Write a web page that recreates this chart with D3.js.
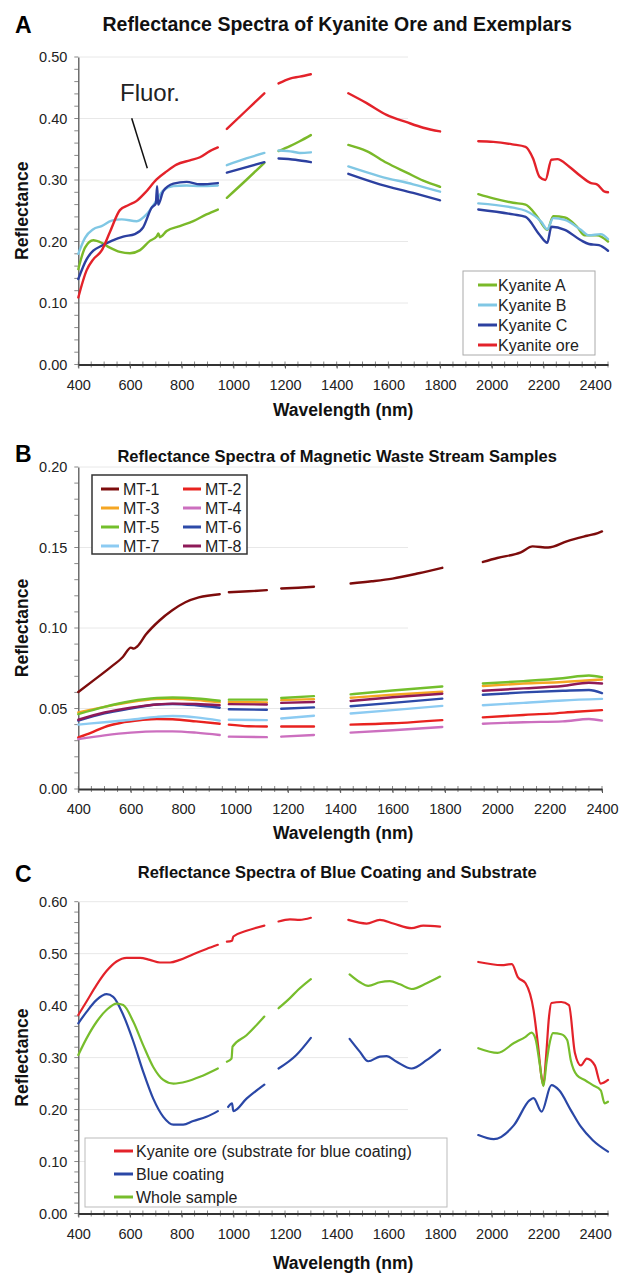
<!DOCTYPE html>
<html>
<head>
<meta charset="utf-8">
<script src="https://cdn.jsdelivr.net/npm/d3@7"></script>
<style>
  body { margin: 0; background: #fff; }
  svg { display: block; font-family: "Liberation Sans", Arial, sans-serif; }
</style>
</head>
<body>
<div id="chart"></div>
<script>
// ---- panel A: kyanite ore and exemplars (null = gap in the spectrum) ----
const kyaniteA = [[400,.155],[426,.19],[458,.202],[490,.198],[522,.19],[561,.183],[600,.181],[639,.186],[677,.201],[703,.208],[710,.213],[716,.207],[742,.217],[793,.225],[845,.233],[896,.244],[940,.252], null,
  [975,.271],[1050,.30],[1120,.328], null,
  [1175,.347],[1219,.355],[1257,.363],[1300,.373], null,
  [1445,.357],[1516,.347],[1593,.328],[1671,.312],[1735,.299],[1800,.289], null,
  [1948,.277],[2006,.270],[2083,.263],[2131,.260],[2177,.240],[2215,.219],[2238,.241],[2283,.239],[2330,.224],[2360,.210],[2407,.210],[2450,.200]];
const kyaniteB = [[400,.18],[426,.206],[458,.22],[490,.225],[529,.234],[568,.236],[626,.233],[664,.244],[697,.263],[729,.283],[768,.29],[819,.291],[871,.29],[940,.291], null,
  [975,.324],[1050,.335],[1120,.344], null,
  [1175,.348],[1231,.346],[1257,.344],[1300,.345], null,
  [1445,.322],[1567,.306],[1696,.293],[1800,.281], null,
  [1948,.262],[2083,.255],[2131,.25],[2192,.232],[2215,.22],[2238,.238],[2283,.235],[2345,.219],[2376,.21],[2422,.212],[2450,.204]];
const kyaniteC = [[400,.139],[432,.171],[458,.185],[490,.193],[529,.201],[574,.208],[619,.212],[651,.223],[684,.255],[700,.262],[705,.29],[709,.26],[729,.282],[768,.294],[819,.297],[871,.293],[940,.295], null,
  [975,.312],[1120,.329], null,
  [1175,.335],[1240,.333],[1300,.329], null,
  [1445,.31],[1567,.293],[1696,.279],[1800,.267], null,
  [1948,.252],[2083,.244],[2131,.240],[2185,.211],[2215,.198],[2231,.224],[2283,.219],[2345,.202],[2376,.196],[2415,.194],[2450,.185]];
const kyaniteOre = [[400,.109],[432,.153],[458,.171],[490,.185],[522,.215],[561,.251],[593,.259],[626,.266],[658,.279],[703,.301],[742,.314],[780,.325],[832,.332],[871,.337],[909,.347],[940,.353], null,
  [975,.383],[1050,.413],[1120,.441], null,
  [1175,.457],[1219,.465],[1257,.468],[1300,.472], null,
  [1445,.441],[1516,.425],[1593,.406],[1671,.394],[1735,.385],[1800,.379], null,
  [1948,.363],[2006,.362],[2080,.358],[2131,.354],[2160,.335],[2185,.305],[2208,.30],[2231,.333],[2254,.334],[2299,.322],[2345,.306],[2384,.295],[2407,.293],[2437,.281],[2450,.28]];

// ---- panel B: magnetic waste stream samples ----
const mt1 = [[400,.0602],[457,.0673],[519,.0751],[570,.082],[601,.0878],[612,.0872],[625,.0885],[658,.0959],[709,.1045],[759,.111],[809,.116],[860,.119],[940,.121], null,
  [975,.1222],[1050,.1228],[1120,.1235], null, [1175,.1245],[1240,.125],[1300,.1256], null,
  [1440,.1276],[1520,.129],[1600,.1307],[1700,.134],[1790,.1374], null,
  [1945,.141],[2000,.1435],[2090,.147],[2135,.1507],[2194,.150],[2268,.154],[2343,.1573],[2384,.159],[2400,.160]];
const mt2 = [[400,.032],[450,.035],[500,.0385],[560,.041],[640,.0428],[700,.0435],[760,.0433],[850,.042],[940,.0405], null,
  [975,.040],[1050,.039],[1120,.0388], null, [1175,.0388],[1300,.0388], null,
  [1440,.040],[1600,.0408],[1790,.0428], null, [1945,.0445],[2100,.046],[2200,.0468],[2300,.048],[2400,.049]];
const mt3 = [[400,.0475],[500,.051],[600,.054],[700,.0558],[760,.056],[850,.0553],[940,.0538], null,
  [975,.054],[1120,.0538], null, [1175,.0552],[1300,.0558], null,
  [1440,.0567],[1600,.0585],[1790,.0604], null, [1945,.064],[2100,.0655],[2250,.0665],[2400,.068]];
const mt4 = [[400,.031],[500,.0333],[600,.035],[700,.0358],[760,.0358],[850,.035],[940,.0335], null,
  [975,.0325],[1120,.0322], null, [1175,.0325],[1300,.0335], null,
  [1440,.035],[1600,.0365],[1790,.0385], null, [1945,.0405],[2100,.0415],[2250,.042],[2350,.0435],[2400,.0425]];
const mt5 = [[400,.0465],[500,.051],[600,.0545],[700,.0565],[760,.0568],[850,.0562],[940,.0548], null,
  [975,.0555],[1120,.0555], null, [1175,.0565],[1300,.0577], null,
  [1440,.0588],[1600,.0612],[1790,.0637], null, [1945,.0655],[2100,.067],[2250,.0688],[2350,.0705],[2400,.0695]];
const mt6 = [[400,.0425],[500,.047],[600,.050],[700,.0525],[760,.0528],[850,.052],[940,.0505], null,
  [975,.0495],[1120,.0492], null, [1175,.0498],[1300,.0507], null,
  [1440,.0514],[1600,.0535],[1790,.0561], null, [1945,.0585],[2100,.060],[2250,.061],[2350,.0615],[2400,.0595]];
const mt7 = [[400,.040],[500,.0415],[600,.043],[700,.0448],[760,.0453],[850,.0445],[940,.0425], null,
  [975,.043],[1120,.0428], null, [1175,.0438],[1300,.0455], null,
  [1440,.0469],[1600,.049],[1790,.0516], null, [1945,.052],[2100,.0535],[2250,.055],[2400,.056]];
const mt8 = [[400,.043],[500,.0475],[600,.0505],[700,.0525],[760,.053],[850,.0528],[940,.052], null,
  [975,.0527],[1120,.0525], null, [1175,.0535],[1300,.054], null,
  [1440,.0547],[1600,.057],[1790,.0592], null, [1945,.061],[2100,.0625],[2250,.064],[2350,.066],[2400,.0655]];

// ---- panel C: blue coating and substrate ----
const oreSubstrate = [[400,.382],[432,.408],[471,.44],[510,.467],[548,.485],[587,.492],[639,.492],[677,.488],[716,.483],[755,.483],[793,.488],[845,.499],[896,.509],[940,.517], null,
  [975,.523],[995,.525],[1000,.533],[1051,.544],[1120,.554], null,
  [1175,.562],[1219,.566],[1257,.565],[1300,.569], null,
  [1445,.565],[1516,.558],[1567,.565],[1619,.558],[1690,.549],[1735,.554],[1800,.552], null,
  [1948,.484],[2039,.478],[2078,.48],[2101,.455],[2131,.443],[2162,.391],[2180,.32],[2192,.265],[2200,.247],[2210,.30],[2222,.38],[2231,.405],[2269,.407],[2299,.401],[2322,.309],[2345,.285],[2368,.298],[2399,.285],[2422,.25],[2450,.257]];
const blueCoating = [[400,.366],[432,.388],[471,.411],[510,.422],[535,.417],[574,.382],[613,.331],[651,.273],[690,.221],[729,.186],[768,.171],[806,.171],[845,.178],[896,.186],[940,.197], null,
  [980,.205],[995,.212],[1000,.197],[1051,.221],[1120,.248], null,
  [1175,.279],[1244,.305],[1300,.338], null,
  [1450,.336],[1490,.311],[1522,.293],[1567,.302],[1593,.303],[1632,.292],[1690,.279],[1748,.295],[1800,.315], null,
  [1948,.151],[2008,.143],[2086,.17],[2147,.218],[2162,.222],[2193,.196],[2231,.247],[2261,.237],[2306,.199],[2345,.167],[2391,.141],[2450,.119]];
const wholeSample = [[400,.305],[432,.337],[471,.369],[510,.392],[548,.404],[574,.401],[613,.369],[651,.324],[690,.282],[729,.257],[768,.25],[819,.254],[871,.263],[940,.279], null,
  [975,.292],[993,.298],[997,.321],[1051,.343],[1120,.379], null,
  [1175,.395],[1220,.415],[1250,.43],[1300,.451], null,
  [1450,.46],[1490,.445],[1522,.438],[1567,.445],[1606,.447],[1645,.441],[1690,.432],[1748,.443],[1800,.456], null,
  [1948,.318],[2023,.309],[2086,.328],[2131,.34],[2154,.348],[2170,.335],[2185,.29],[2200,.245],[2212,.29],[2225,.33],[2237,.347],[2269,.345],[2292,.334],[2306,.295],[2330,.266],[2360,.257],[2391,.247],[2422,.237],[2437,.212],[2450,.215]];

const xTicks = d3.range(400, 2401, 200);
const yTicksA = [0, .1, .2, .3, .4, .5];
const yTicksB = [0, .05, .1, .15, .2];
const yTicksC = [0, .1, .2, .3, .4, .5, .6];

const width = 620, height = 1274;
const svg = d3.select("#chart").append("svg")
    .attr("width", width)
    .attr("height", height);

const panels = [
  {letter: "A", title: "Reflectance Spectra of Kyanite Ore and Exemplars", titleSize: 19.5, titleY: 31, letterY: 33,
   xMax: 2450, right: 608, yTicks: yTicksA, yMinor: .02, top: 57, bottom: 364.5, lw: 2.4,
   series: [
     {name: "Kyanite A", data: kyaniteA, color: "#7ab929"},
     {name: "Kyanite B", data: kyaniteB, color: "#80c7e4"},
     {name: "Kyanite C", data: kyaniteC, color: "#2c40a0"},
     {name: "Kyanite ore", data: kyaniteOre, color: "#e3222a"}],
   legend: {x: 463, y: 271, w: 132, h: 84, cols: 1, rowH: 20, lineX: 478, lineW: 19, textX: 498, first: 14, border: "#aaa"},
   axisY: 416},
  {letter: "B", title: "Reflectance Spectra of Magnetic Waste Stream Samples", titleSize: 16.5, titleY: 462, letterY: 462,
   xMax: 2400, right: 602, yTicks: yTicksB, yMinor: .01, top: 467, bottom: 789, lw: 2.4,
   series: [
     {name: "MT-1", data: mt1, color: "#7d0c0c"},
     {name: "MT-2", data: mt2, color: "#e8221f"},
     {name: "MT-3", data: mt3, color: "#f5a623"},
     {name: "MT-4", data: mt4, color: "#cc6fbf"},
     {name: "MT-5", data: mt5, color: "#73bf2c"},
     {name: "MT-6", data: mt6, color: "#2d4aa8"},
     {name: "MT-7", data: mt7, color: "#8ccbf2"},
     {name: "MT-8", data: mt8, color: "#8e1a58"}],
   legend: {x: 92, y: 475, w: 155, h: 79, cols: 2, rowH: 19, lineX: 101, lineW: 18, textX: 123, colW: 82, first: 14, border: "#333"},
   axisY: 839},
  {letter: "C", title: "Reflectance Spectra of Blue Coating and Substrate", titleSize: 16.5, titleY: 878, letterY: 882,
   xMax: 2450, right: 608, yTicks: yTicksC, yMinor: .02, top: 901.7, bottom: 1213.5, lw: 2.2,
   series: [
     {name: "Kyanite ore (substrate for blue coating)", data: oreSubstrate, color: "#e3222a"},
     {name: "Blue coating", data: blueCoating, color: "#2a47a6"},
     {name: "Whole sample", data: wholeSample, color: "#77bd2c"}],
   legend: {x: 85, y: 1138, w: 362, h: 69, cols: 1, rowH: 23, lineX: 114, lineW: 19, textX: 136, first: 13, border: "#bbb"},
   axisY: 1269}
];

const left = 78.3;

panels.forEach(p => {
  const x = d3.scaleLinear().domain([400, p.xMax]).range([left, p.right]);
  const yMax = p.yTicks[p.yTicks.length - 1];
  const y = d3.scaleLinear().domain([0, yMax]).range([p.bottom, p.top]);
  const g = svg.append("g");

  // light gridlines
  g.append("g").selectAll("line")
    .data(p.yTicks.filter(v => v > 0))
    .join("line")
      .attr("x1", left).attr("x2", 408)
      .attr("y1", d => y(d)).attr("y2", d => y(d))
      .attr("stroke", "#e8e8e8");

  // minor ticks
  g.append("g").selectAll("line")
    .data(d3.range(0, yMax + 1e-9, p.yMinor))
    .join("line")
      .attr("x1", left - 4).attr("x2", left)
      .attr("y1", d => y(d)).attr("y2", d => y(d))
      .attr("stroke", "#888");
  g.append("g").selectAll("line")
    .data(d3.range(400, p.xMax + 1, 50))
    .join("line")
      .attr("x1", d => x(d)).attr("x2", d => x(d))
      .attr("y1", p.bottom - 3).attr("y2", p.bottom + 3)
      .attr("stroke", "#888");

  const yAxis = g.append("g")
      .attr("transform", `translate(${left},0)`)
      .call(d3.axisLeft(y).tickValues(p.yTicks).tickFormat(d3.format(".2f")).tickSize(0).tickPadding(11))
      .attr("font-family", null)
      .attr("font-size", 14.5);
  yAxis.select(".domain").attr("stroke", "#555").attr("stroke-width", 1.3);
  yAxis.selectAll("text").attr("fill", "#222");

  const xAxis = g.append("g")
      .attr("transform", `translate(0,${p.bottom})`)
      .call(d3.axisBottom(x).tickValues(xTicks).tickFormat(d3.format("d")).tickSize(4).tickSizeOuter(0).tickPadding(11))
      .attr("font-family", null)
      .attr("font-size", 14.5);
  xAxis.select(".domain").attr("stroke", "#333").attr("stroke-width", 2);
  xAxis.selectAll(".tick line").attr("stroke", "#555");
  xAxis.selectAll("text").attr("fill", "#222");

  // spectra
  const line = d3.line()
      .defined(d => d !== null)
      .x(d => x(d[0]))
      .y(d => y(d[1]))
      .curve(d3.curveMonotoneX);

  g.append("g").selectAll("path")
    .data(p.series)
    .join("path")
      .attr("fill", "none")
      .attr("stroke", d => d.color)
      .attr("stroke-width", p.lw)
      .attr("stroke-linejoin", "round")
      .attr("stroke-linecap", "round")
      .attr("d", d => line(d.data));

  // titles
  svg.append("text")
      .attr("x", 15).attr("y", p.letterY)
      .attr("font-size", 23).attr("font-weight", "bold")
      .text(p.letter);
  svg.append("text")
      .attr("x", (left + 608) / 2 - 6).attr("y", p.titleY)
      .attr("text-anchor", "middle")
      .attr("font-size", p.titleSize).attr("font-weight", "bold")
      .attr("fill", "#111")
      .text(p.title);
  svg.append("text")
      .attr("x", (left + 608) / 2).attr("y", p.axisY)
      .attr("text-anchor", "middle")
      .attr("font-size", 17.5).attr("font-weight", "bold")
      .attr("fill", "#111")
      .text("Wavelength (nm)");
  svg.append("text")
      .attr("transform", `translate(28,${(p.top + p.bottom) / 2}) rotate(-90)`)
      .attr("text-anchor", "middle")
      .attr("font-size", 17.5).attr("font-weight", "bold")
      .attr("fill", "#111")
      .text("Reflectance");

  // legend
  const L = p.legend;
  const lg = svg.append("g");
  lg.append("rect")
      .attr("x", L.x).attr("y", L.y).attr("width", L.w).attr("height", L.h)
      .attr("fill", "#fff").attr("stroke", L.border).attr("stroke-width", L.border === "#333" ? 1.5 : 1);
  const item = lg.selectAll("g")
    .data(p.series)
    .join("g")
      .attr("transform", (d, i) => {
        const col = i % L.cols, row = Math.floor(i / L.cols);
        return `translate(${col * (L.colW || 0)},${L.y + L.first + row * L.rowH})`;
      });
  item.append("line")
      .attr("x1", L.lineX).attr("x2", L.lineX + L.lineW)
      .attr("stroke", d => d.color).attr("stroke-width", 3);
  item.append("text")
      .attr("x", L.textX).attr("dy", "0.35em")
      .attr("font-size", 16).attr("fill", "#222")
      .text(d => d.name);
});

// annotation in panel A
svg.append("text")
    .attr("x", 120).attr("y", 101)
    .attr("font-size", 24).attr("fill", "#222")
    .text("Fluor.");
svg.append("line")
    .attr("x1", 131.7).attr("y1", 118.3)
    .attr("x2", 147.3).attr("y2", 168.3)
    .attr("stroke", "#111").attr("stroke-width", 1.5);
</script>
</body>
</html>
